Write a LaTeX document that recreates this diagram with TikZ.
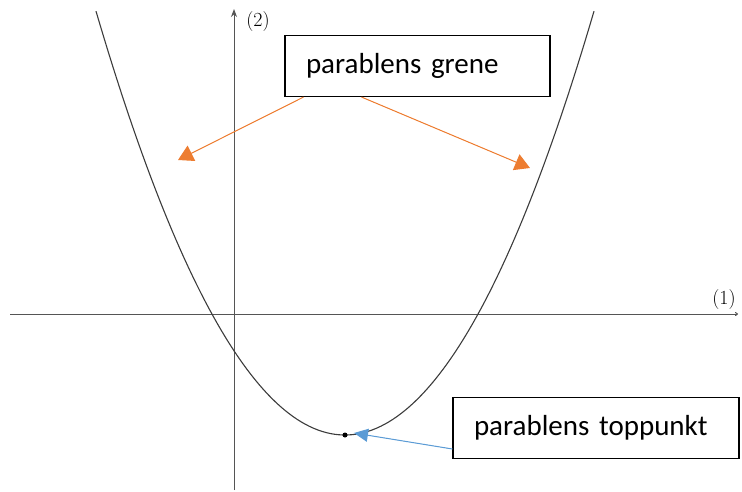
\documentclass[tikz,border=0pt]{standalone}
\usepackage{fontspec}
\newfontfamily\calfont{Carlito}
\usetikzlibrary{arrows.meta, positioning}
\definecolor{curvegray}{RGB}{60,60,60}
\definecolor{axisgray}{RGB}{85,85,85}
\definecolor{greneorange}{RGB}{237,125,49}
\definecolor{topblue}{RGB}{91,155,213}
\tikzset{
  lbox/.style={rectangle, draw=black, line width=1.1pt, fill=white, minimum height=61pt,
               align=left, inner xsep=21pt, font=\calfont\fontsize{29}{34}\selectfont},
  axis/.style={draw=axisgray, line width=1pt},
  axlabel/.style={font=\fontsize{20}{22}\selectfont, inner sep=0pt},
  curve/.style={draw=curvegray, line width=1.1pt},
  orarr/.style={-{Triangle[length=15pt,width=17pt]}, line width=1pt, draw=greneorange, fill=greneorange},
  bluarr/.style={-{Triangle[length=14pt,width=13pt]}, line width=1pt, draw=topblue, fill=topblue}
}

\begin{document}
\begin{tikzpicture}[x=1pt, y=-1pt]
\useasboundingbox (0,0) rectangle (742,491);
% axes
\coordinate (xs) at (10,314); \coordinate (xe) at (738,314);
\coordinate (ys) at (234,490); \coordinate (ye) at (234,9);
\draw[axis, -{To[length=3pt,width=4pt]}] (xs) -- (xe);
\draw[axis, -{Stealth[length=8pt,width=6pt]}] (ys) -- (ye);
\node[axlabel] (l2) at (258,22) {(2)};
\node[axlabel] (l1) at (724,300) {(1)};
% parabola
\draw[curve] plot[domain=96:594, samples=120] (\x, {435 - 0.00684*(\x-345)*(\x-345)});
\node[circle, fill=black, inner sep=0pt, minimum size=5pt] (top) at (345,435) {};
% labels
\node[lbox, text width=223pt] (grene) at (417.5,66) {parablens grene};
\node[lbox, text width=244pt] (toppkt) at (596,428) {parablens toppunkt};
\coordinate (gl) at (178,160); \coordinate (gr) at (530,168);
\draw[orarr] ([xshift=-114pt]grene.south) -- (gl);
\draw[orarr] ([xshift=-56pt]grene.south) -- (gr);
\draw[bluarr] ([yshift=-21pt]toppkt.west) -- ([xshift=9pt, yshift=2pt]top.center);
\end{tikzpicture}
\end{document}
